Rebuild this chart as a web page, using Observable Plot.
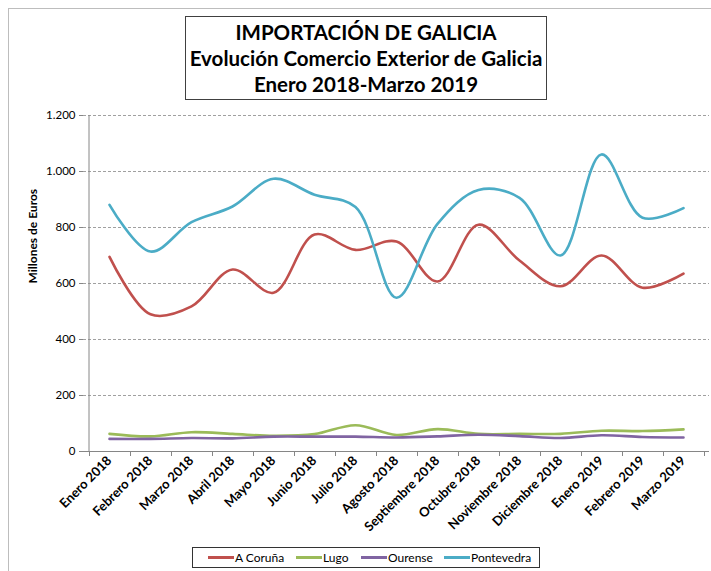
<!DOCTYPE html>
<html>
<head>
<meta charset="utf-8">
<script src="https://cdn.jsdelivr.net/npm/d3@7"></script>
<script src="https://cdn.jsdelivr.net/npm/@observablehq/plot@0.6"></script>
<style>
  html, body { margin: 0; padding: 0; background: #fff; overflow: hidden; }
  body { width: 711px; height: 571px; position: relative; font-family: Lato, "Open Sans", sans-serif; color: #000; }
  #frame { position: absolute; left: 8px; top: 8px; width: 760px; height: 620px; border: 1.5px solid #bdbdbd; box-sizing: border-box; }
  #chart { position: absolute; left: 0; top: 0; }
  #title { position: absolute; left: 185px; top: 16px; width: 362px; height: 84px; box-sizing: border-box;
           border: 1.5px solid #404040; text-align: center; font-weight: bold; font-size: 20.5px; line-height: 26px; padding-top: 2px; background: #fff; white-space: nowrap; }
  #legend { position: absolute; left: 192px; top: 547px; width: 348px; height: 21px; box-sizing: border-box; border: 1px solid #333; background: #fff; }
  .item { position: absolute; top: 0; height: 19px; display: flex; align-items: center; font-size: 12px; }
  .swatch { display: inline-block; width: 26px; height: 3px; margin-right: 1px; }
</style>
</head>
<body>
<div id="frame"></div>
<div id="chart"></div>
<div id="title">IMPORTACIÓN DE GALICIA<br>Evolución Comercio Exterior de Galicia<br>Enero 2018-Marzo 2019</div>
<div id="legend"></div>
<script>
const months = ["Enero 2018","Febrero 2018","Marzo 2018","Abril 2018","Mayo 2018","Junio 2018","Julio 2018","Agosto 2018","Septiembre 2018","Octubre 2018","Noviembre 2018","Diciembre 2018","Enero 2019","Febrero 2019","Marzo 2019"];
const seriesNames = ["A Coruña","Lugo","Ourense","Pontevedra"];
const seriesColors = ["#C0504D","#9BBB59","#8064A2","#4BACC6"];
const coruna     = [695, 490, 518, 650, 567, 775, 720, 750, 607, 810, 682, 590, 700, 585, 635];
const lugo       = [63, 54, 69, 63, 56, 62, 94, 59, 80, 63, 63, 63, 74, 73, 79];
const ourense    = [45, 45, 48, 47, 53, 53, 53, 50, 54, 60, 55, 48, 58, 52, 50];
const pontevedra = [881, 714, 819, 875, 974, 917, 873, 549, 813, 934, 906, 700, 1061, 835, 869];
const yTicks = [0, 200, 400, 600, 800, 1000, 1200];
const yTitle = "Millones de Euros";

const valuesBySeries = [coruna, lugo, ourense, pontevedra];
const data = [];
seriesNames.forEach((s, si) => months.forEach((m, i) => data.push({series: s, month: m, value: valuesBySeries[si][i]})));

const fmt = d => d3.format(",")(d).replace(/,/g, ".");

// axis line + category boundary ticks derived from scales
function axisDecor(index, scales, values, dimensions) {
  const {x, y} = scales;
  const step = x(months[1]) - x(months[0]);
  const x0 = x(months[0]) - step / 2;
  const y0 = y(0), yTop = y(d3.max(yTicks));
  const g = d3.create("svg:g").attr("stroke", "#868686").attr("stroke-width", 1).attr("fill", "none");
  g.append("line").attr("x1", x0 + 0.5).attr("x2", x0 + 0.5).attr("y1", yTop).attr("y2", y0);
  for (let i = 0; i <= months.length; i++) {
    const xi = Math.round(x0 + i * step) + 0.5;
    g.append("line").attr("x1", xi).attr("x2", xi).attr("y1", y0).attr("y2", y0 + 5);
  }
  return g.node();
}

const chart = Plot.plot({
  width: 711,
  height: 571,
  marginLeft: 83,
  marginRight: 2,
  marginTop: 115,
  marginBottom: 120,
  style: {fontFamily: "Lato, 'Open Sans', sans-serif", color: "#000", background: "transparent"},
  x: {type: "point", domain: months, padding: 0.5},
  y: {domain: [0, 1200]},
  color: {domain: seriesNames, range: seriesColors},
  marks: [
    Plot.ruleY(yTicks.filter(d => d > 0), {stroke: "#a0a0a0", strokeDasharray: "3,2", strokeWidth: 1}),
    Plot.ruleY([0], {stroke: "#868686"}),
    axisDecor,
    Plot.axisY({ticks: yTicks, tickFormat: fmt, tickSize: 4, tickPadding: 4, stroke: "#868686", fontSize: 11.5, label: null}),
    Plot.axisX({tickSize: 0, tickRotate: -45, tickPadding: 7, fontSize: 13, fontWeight: "bold", label: null}),
    Plot.text([yTitle], {frameAnchor: "left", rotate: -90, dx: -50, fontWeight: "bold", fontSize: 12, fill: "#000"}),
    Plot.line(data, {x: "month", y: "value", z: "series", stroke: "series", curve: "catmull-rom", strokeWidth: 2.6, strokeLinecap: "round", strokeLinejoin: "round"})
  ]
});
document.getElementById("chart").appendChild(chart);

// legend
const legendPos = [15, 103, 168, 251];
const legend = document.getElementById("legend");
seriesNames.forEach((s, i) => {
  const it = document.createElement("div");
  it.className = "item";
  it.style.left = legendPos[i] + "px";
  it.innerHTML = `<span class="swatch" style="background:${seriesColors[i]}"></span>${s}`;
  legend.appendChild(it);
});
</script>
</body>
</html>
